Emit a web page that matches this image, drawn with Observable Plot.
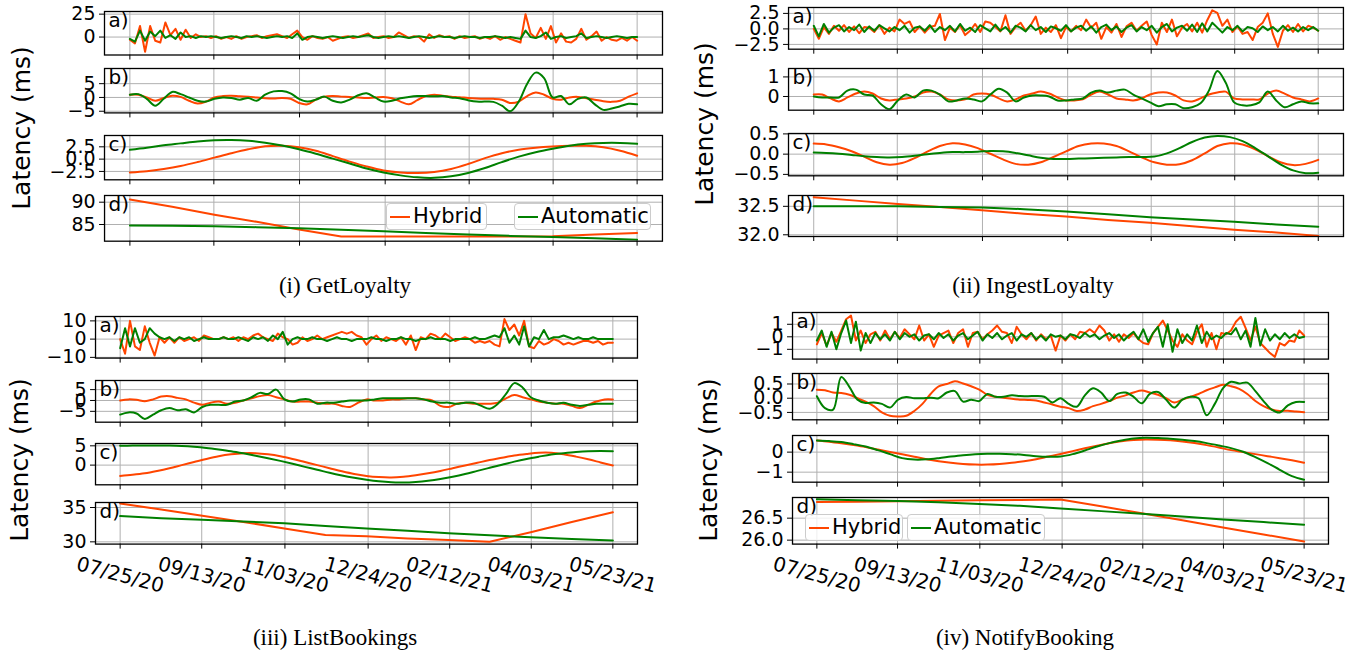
<!DOCTYPE html>
<html><head><meta charset="utf-8">
<script src="https://cdn.jsdelivr.net/npm/d3@7"></script>
<script src="https://cdn.jsdelivr.net/npm/@observablehq/plot@0.6"></script>
<style>
body{margin:0;background:#fff;}
#fig{position:relative;width:1364px;height:654px;overflow:hidden;font-family:"DejaVu Sans",sans-serif;background:#fff;}
.sub{position:absolute;overflow:visible;}
.ylab{position:absolute;font-size:25px;transform:translate(-50%,-50%) rotate(-90deg);white-space:nowrap;line-height:1;}
.cap{position:absolute;font-family:"Liberation Serif","Times New Roman",serif;font-size:23px;transform:translate(-50%,-50%);white-space:nowrap;line-height:1;}
.leg{position:absolute;box-sizing:border-box;border:1px solid #cccccc;border-radius:4px;background:rgba(255,255,255,0.8);display:flex;align-items:center;font-size:21px;line-height:1;white-space:nowrap;}
.sw{display:inline-block;width:20px;height:2px;margin:0 3px 0 3px;}
</style></head><body><div id="fig"></div>
<script>
// ---------- shared axis data ----------
const dateTickStrings = ["2020-07-25","2020-09-13","2020-11-03","2020-12-24","2021-02-12","2021-04-03","2021-05-23"];
const dateTickLabels = ["07/25/20","09/13/20","11/03/20","12/24/20","02/12/21","04/03/21","05/23/21"];
const seriesNames = ["Hybrid","Automatic"];
const captions = ["(i) GetLoyalty","(ii) IngestLoyalty","(iii) ListBookings","(iv) NotifyBooking"];

// ---------- (i) GetLoyalty ----------
const GL_a_hybrid = [-3,-7,12,-16,12,-4,-6,16,2,9, -3,8,-1,3,0,1,-1,1,-2,0, -2,1,-2,0,1,2,-1,1,2,3, 1,-1,3,7,0,-3,1,-1,-2,0, -4,-2,0,1,-1,0,2,4,-1,0, 1,-1,0,5,2,-1,1,0,-5,3, -1,2,0,1,-2,1,-1,0,1,-2, 0,-2,1,-3,0,-2,-4,-6,25,4, -1,10,-2,12,-6,4,-5,-6,-2,9, -3,1,6,-4,0,-3,-4,-1,-4,0, -4];
const GL_a_auto = [-2,-5,7,-4,6,1,7,-1,2,-2, 5,0,1,-1,1,0,1,0,-1,0, 1,0,-1,1,0,1,0,-1,0,1, 0,1,-1,4,-3,0,1,0,-1,0, 1,0,-1,0,1,0,1,2,0,-1, 0,1,0,1,0,-1,0,1,0,-1, 0,1,0,0,-1,0,1,0,0,-1, 0,0,1,0,-1,0,-1,-2,7,0, -1,1,5,-2,0,1,-1,0,1,4, -1,0,1,0,-1,0,1,0,-1,0, 0];
const GL_b_hybrid = [1,1,0,-1.2,-0.2,0.6,0.2,-1.2,-2.2,-1.5, 0,0.5,0.6,0.4,0.3,0,-0.3,-0.4,-0.2,-0.5, -2.0,-2.5,-0.8,0.3,0.5,0.3,0.2,0,-0.2,0, 0.2,-0.3,-1.5,-2.5,-1.0,0.5,1.0,0.6,0.3,0.1, -0.2,-0.4,-0.5,-0.5,-0.8,-2.0,-1.5,0.5,1.8,1.0, -0.5,-0.8,0,0.2,-0.3,-0.8,-1.4,-1.6,-1.2,0.3, 1.5];
const GL_b_auto = [1,1.2,-0.5,-3,-0.5,2,1.2,0,-1.2,-1.5, -0.5,0,-0.2,-0.8,-0.2,-1.2,1.0,2.2,2.3,1.5, -0.5,-1.5,-0.8,0.3,-1.2,-1.8,-0.8,0.8,1.5,0, -1.5,-1.2,-0.3,0.2,0.5,0.5,0.4,0.5,0,-0.3, -1.0,-1.5,-1.5,-1.6,-3,-5,-1.5,5,9,7, 0,0.5,-2.5,-0.5,0,-2.5,-4.5,-4,-3.2,-2.3, -2.5];
const GL_c_hybrid = [-2.7,-2.45,-2.0,-1.4,-0.6,0.3,1.2,2.0,2.6,2.7, 2.4,1.7,0.6,-0.5,-1.5,-2.3,-2.7,-2.8,-2.6,-2.0, -1.0,0.2,1.2,1.9,2.3,2.55,2.7,2.7,2.4,1.7, 0.7];
const GL_c_auto = [1.9,2.3,2.8,3.2,3.6,3.85,3.9,3.75,3.35,2.75, 2.0,1.1,0.1,-0.9,-1.9,-2.7,-3.3,-3.7,-3.8,-3.5, -2.8,-1.8,-0.6,0.5,1.4,2.1,2.7,3.1,3.3,3.3, 3.1];
const GL_d_hybrid = [90.6,89.0,87.2,85.6,83.9,82.3,82.3,82.3,82.3,82.3,82.35,82.75,83.1];
const GL_d_auto = [84.8,84.7,84.6,84.4,84.15,83.85,83.5,83.1,82.75,82.45,82.2,81.9,81.6];

// ---------- (ii) IngestLoyalty ----------
const IL_a_hybrid = [0,-1.6,0.3,-0.8,0.5,-0.3,0.6,-0.5,0.4,-0.7, 0.3,0.2,-0.5,0.6,-0.8,0.2,-0.4,1.5,0.8,1.2, -0.5,0.4,-0.6,0.3,0.5,2.4,-1.8,0.2,-0.5,0.6, -1.0,-0.3,0.8,-0.5,1.2,1.0,0.3,-0.4,2.2,-0.8, 0.3,1.0,-0.3,0.6,2.0,-0.8,0.2,-0.5,0.6,-1.5, 0.3,-0.4,0.5,-0.2,1.5,0.2,1.0,-1.6,0.3,-0.6, 0.8,-1.3,0.4,1.0,-0.3,0.5,1.2,-1.0,-2.5,1.0, -0.5,1.5,-1.2,0.2,0.8,-0.4,1.0,-0.6,1.4,3.0, 2.6,0.5,1.5,-0.5,0.4,-0.8,-0.5,-1.8,0.3,1.0, 2.5,-0.8,-2.9,-0.3,0.6,-0.5,0.8,-0.4,0.5,0.2, -0.3];
const IL_a_auto = [0.5,-1.2,0.8,-0.6,0.2,0.6,-0.4,0.3,-0.2,0.7, -0.5,0.4,-0.3,0.6,0.1,-0.4,0.3,-0.2,0.5,-0.6, 0.2,0.4,-0.3,0.6,-0.5,0.3,-0.2,0.5,-0.4,0.8, -0.3,0.2,-0.5,0.6,0.1,-0.4,0.7,-0.3,0.3,-0.6, 0.5,0.2,-0.4,0.6,-0.2,0.3,-0.5,0.4,0.1,-0.3, 0.6,-0.4,0.2,0.5,-0.3,0.4,-0.6,0.3,0.7,-0.2, 0.4,-0.5,0.2,0.6,-0.4,0.3,-0.2,0.5,-0.6,0.3, 0.8,-0.4,0.2,0.5,-0.3,0.7,-0.5,0.9,-0.4,1.0, 0.2,-0.6,0.3,-0.2,0.5,-0.4,0.3,0.1,-0.5,0.4, -0.2,0.3,-0.4,0.5,-0.3,0.2,-0.4,0.3,-0.2,0.3, -0.3];
const IL_b_hybrid = [0.1,0.1,-0.1,-0.25,-0.05,0.15,0.25,0.15,-0.1,-0.2, -0.15,-0.1,0,0.2,0.25,0.1,-0.15,-0.2,-0.15,0.1, 0.15,0.1,-0.1,-0.25,-0.15,0.05,0.15,0.25,0.15,-0.05, -0.2,-0.2,-0.15,0.1,0.25,0.1,-0.1,-0.15,-0.2,-0.1, 0.1,0.2,0.2,0.05,-0.2,-0.25,-0.1,0.1,0.2,0.25, -0.1,-0.15,-0.15,-0.15,0.15,0.3,0.15,-0.05,-0.15,-0.25, -0.1];
const IL_b_auto = [0,-0.05,-0.05,-0.05,0.3,0.35,0.1,0.05,-0.4,-0.65, -0.2,0.1,-0.05,0.3,0.3,0.1,-0.25,-0.2,-0.1,-0.15, -0.25,0.1,0.4,0.2,-0.25,-0.05,0.05,0.05,0,-0.2, -0.2,-0.15,-0.1,0.2,0.3,0.2,0.3,0.35,0.1,-0.1, -0.3,-0.5,-0.4,-0.4,-0.6,-0.55,-0.35,0.3,1.3,0.7, -0.3,-0.45,-0.45,-0.3,0.25,-0.2,-0.55,-0.4,-0.25,-0.35, -0.35];
const IL_c_hybrid = [0.26,0.24,0.17,0.07,-0.06,-0.2,-0.26,-0.22,-0.1,0.06, 0.2,0.27,0.24,0.15,0.01,-0.13,-0.24,-0.26,-0.2,-0.07, 0.07,0.2,0.26,0.26,0.2,0.07,-0.08,-0.2,-0.26,-0.25, -0.15,0.02,0.2,0.27,0.24,0.12,-0.05,-0.2,-0.27,-0.24, -0.14];
const IL_c_auto = [0.04,0.03,0.01,-0.02,-0.05,-0.07,-0.08,-0.07,-0.04,0, 0.03,0.05,0.05,0.06,0.08,0.07,0.03,-0.03,-0.09,-0.12, -0.12,-0.11,-0.1,-0.09,-0.08,-0.07,-0.07,-0.06,0.02,0.15, 0.3,0.41,0.45,0.42,0.32,0.15,-0.05,-0.25,-0.4,-0.47, -0.46];
const IL_d_hybrid = [32.66,32.6,32.54,32.49,32.43,32.37,32.32,32.26,32.21,32.15,32.09,32.04,31.98];
const IL_d_auto = [32.5,32.5,32.5,32.49,32.48,32.45,32.41,32.36,32.31,32.27,32.23,32.18,32.14];

// ---------- (iii) ListBookings ----------
const LB_a_hybrid = [0,-8,10,-4,-6,7,-2,-9,1,-2, 1,-2,1,-1,0,1,-1,2,1,0, 0,1,0,1,-1,1,0,2,3,1, 0,-1,3,1,0,-3,-2,1,-1,0, 2,0,1,2,3,4,3,4,2,1, -3,0,2,-1,1,0,-1,1,-3,2, -6,1,0,3,2,0,3,1,-1,0, 1,0,-2,-1,-2,-1,-3,-4,11,5, 8,2,10,-4,-5,-1,-3,-2,0,-1, -3,-2,-3,-2,-1,-1,-2,-1,-3,-2, -2];
const LB_a_auto = [-5,6,-4,6,-2,0,6,3,1,0, 1,-1,1,0,1,-1,0,1,0,0, 0,1,0,0,1,0,-1,1,0,1, -1,2,0,4,-3,0,1,0,0,1, 0,0,-1,0,1,0,0,-1,0,0, 0,1,0,0,-1,0,0,1,0,0, -1,0,0,1,0,0,0,-1,0,0, 0,0,1,0,0,1,2,1,6,-2, 2,-3,7,-4,1,0,5,0,1,1, 2,1,0,1,0,0,1,0,0,0, 0];
const LB_b_hybrid = [0,0.5,0.3,-0.3,0.5,1.8,2,1.2,0.5,-1, -2,-1,-0.5,-1.5,-1,0,1,2,2.5,1.5, 0.5,-0.5,-0.5,-0.5,-1,-1.5,-1.5,-2.5,-3,-1, 0.5,0,0,0.5,0.5,1,1,0.5,0,-2.5, -3,-1.5,-1,-1.5,-1.5,-1.5,-1,1,2.5,1.5, 0.5,-0.5,-1,-1.5,-1.5,-2.5,-3.5,-2,-0.5,0.5, 0.5];
const LB_b_auto = [-6.5,-5.5,-6,-8.5,-6.5,-4.5,-3.5,-4.5,-4,-5.5, -3,-2,-2,-2,-0.5,0,1.5,3.5,3,5, 0.5,-0.5,0.5,0.5,-1.5,-1,-1,-0.5,0,0, 0,0.5,1,1,1,1,1,0.5,-0.5,-1, -1,-1.5,-1,-1,-2.5,-3.8,-1.5,3,8,6, 1.5,0,-1,-1.5,-1,-2,-2.5,-2,-1.5,-1.5, -1.5];
const LB_c_hybrid = [-2.8,-2.5,-2.1,-1.5,-0.8,0,0.8,1.6,2.3,2.8, 3.1,3.1,2.8,2.3,1.6,0.8,0,-0.8,-1.6,-2.3, -2.8,-3.1,-3.2,-3.0,-2.6,-2.1,-1.5,-0.8,-0.1,0.6, 1.3,1.9,2.5,2.9,3.2,3.2,2.8,2.2,1.5,0.7, -0.1];
const LB_c_auto = [5.0,5.05,5.1,5.1,5.05,4.95,4.75,4.45,4.05,3.6, 3.05,2.45,1.8,1.1,0.35,-0.45,-1.2,-2.0,-2.7,-3.3, -3.8,-4.2,-4.45,-4.5,-4.35,-4.05,-3.6,-3.0,-2.3,-1.5, -0.7,0.1,0.9,1.6,2.2,2.75,3.1,3.4,3.6,3.65, 3.6];
const LB_d_hybrid = [35.6,34.7,33.8,32.9,31.95,31.0,30.8,30.5,30.25,30.0,31.4,32.9,34.3];
const LB_d_auto = [33.75,33.45,33.2,32.95,32.7,32.3,31.95,31.6,31.25,30.95,30.65,30.4,30.2];

// ---------- (iv) NotifyBooking ----------
const NB_a_hybrid = [-0.6,0.3,-0.7,0.3,-0.4,0.5,1.4,1.7,-0.3,0.5, -0.5,0.2,0.4,-0.3,0.5,-0.2,0.4,-0.1,0.6,0.2, -0.2,0.9,-0.3,0.2,-0.8,0.1,0.3,0.5,-0.5,0.3, 0.6,-0.8,0.3,0.4,-0.2,0.2,0.5,0.9,0.4,0.3, -0.5,0.8,0.2,-0.2,0.3,-0.3,0.2,-0.2,0.1,-1.1, 0.1,-0.3,0.2,-0.2,0.4,0.3,0.6,0.3,0.9,0.5, -0.3,0.2,-0.4,0.2,-0.1,0.3,-0.2,-0.5,-0.6,0.3, 0.8,1.3,0.5,-0.3,-0.8,0.2,-0.3,-0.6,0.4,1.0, -0.8,0.3,-1.0,0.3,0.2,0.5,1.2,1.6,0.7,-0.3, 0.8,-0.5,-0.9,-1.3,-1.6,-0.5,-0.7,-0.3,-0.4,0.5, 0.1];
const NB_a_auto = [-0.3,0.5,-0.8,0.4,-1.0,0.3,1.3,-0.5,1.2,-1.1, 0.3,-0.5,0.3,-0.2,0.2,-0.3,0.4,-0.2,0.3,0, 0.2,-0.3,0.1,0.2,-0.2,0.3,-0.1,0.2,-0.3,0.1, 0.3,-0.2,0.1,0.4,-0.3,0.2,-0.1,0.3,-0.2,0.1, 0.3,-0.3,0.2,0,0.3,-0.2,0.1,-0.3,0.2,0, 0.1,-0.2,0.2,0.1,-0.1,0.3,0,0.2,-0.2,0.1, 0.3,-0.1,0.2,-0.3,0.1,0.4,-0.2,0.6,-0.4,0.3, 0.8,-0.8,1.0,-1.2,0.6,-0.5,0.2,-0.3,0.9,-0.5, 0.4,-0.2,0.1,-0.1,0.3,0.2,0.7,-0.2,0.5,-0.8, 1.5,-0.7,0.6,-0.3,0.2,-0.2,0.3,-0.1,0.2,-0.1, 0];
const NB_b_hybrid = [0.3,0.28,0.2,0.18,0.12,0,-0.12,-0.28,-0.5,-0.62, -0.64,-0.62,-0.45,-0.2,0.15,0.42,0.5,0.6,0.52,0.42, 0.3,0.12,0.05,0.02,-0.02,-0.05,-0.06,-0.08,-0.15,-0.22, -0.3,-0.35,-0.45,-0.4,-0.28,-0.2,-0.1,0.02,0.1,0.2, 0.27,0.2,0.12,0,-0.15,-0.05,0.05,0.15,0.28,0.38, 0.47,0.42,0.33,0.15,-0.1,-0.28,-0.4,-0.45,-0.44,-0.47, -0.49];
const NB_b_auto = [0.07,-0.35,-0.4,0.75,0.4,-0.05,-0.17,-0.15,-0.2,-0.33, -0.05,0.04,0,0,0.02,0,0.2,0.25,-0.12,-0.05, -0.1,0.15,0.05,0.05,0.1,0.08,0.07,0.08,0.05,-0.15, 0,-0.2,-0.3,0.1,0.35,0.2,-0.1,0.15,0.2,0.05, -0.18,0.15,0.22,-0.05,-0.33,-0.05,0.05,0,-0.6,-0.2, 0.35,0.58,0.52,0.55,0.25,-0.1,-0.4,-0.5,-0.25,-0.13, -0.13];
const NB_c_hybrid = [0.58,0.52,0.44,0.35,0.25,0.13,0.01,-0.11,-0.23,-0.35, -0.45,-0.53,-0.59,-0.62,-0.62,-0.59,-0.53,-0.45,-0.35,-0.22, -0.09,0.05,0.19,0.32,0.44,0.54,0.6,0.63,0.62,0.59, 0.53,0.45,0.35,0.23,0.1,0,-0.1,-0.2,-0.3,-0.41, -0.53];
const NB_c_auto = [0.58,0.55,0.5,0.4,0.28,0.1,-0.1,-0.3,-0.37,-0.36, -0.3,-0.22,-0.15,-0.1,-0.08,-0.08,-0.1,-0.14,-0.2,-0.23, -0.22,-0.1,0.08,0.28,0.45,0.58,0.68,0.72,0.7,0.67, 0.62,0.55,0.45,0.33,0.2,0.02,-0.25,-0.55,-0.88,-1.2, -1.38];
const NB_d_hybrid = [26.87,26.875,26.885,26.895,26.905,26.915,26.925,26.77,26.61,26.45,26.29,26.13,25.97];
const NB_d_auto = [26.93,26.91,26.89,26.86,26.82,26.78,26.72,26.66,26.6,26.54,26.47,26.41,26.35];

// ---------- tick values per subplot ----------
const ticks = {
  GL:{a:[0,25], b:[-5,0,5], c:[-2.5,0,2.5], d:[85,90]},
  IL:{a:[-2.5,0,2.5], b:[0,1], c:[-0.5,0,0.5], d:[32.0,32.5]},
  LB:{a:[-10,0,10], b:[-5,0,5], c:[0,5], d:[30,35]},
  NB:{a:[-1,0,1], b:[-0.5,0,0.5], c:[-1,0], d:[26.0,26.5]}
};
const tickDecimals = {
  GL:{a:0,b:0,c:1,d:0}, IL:{a:1,b:0,c:1,d:1}, LB:{a:0,b:0,c:0,d:0}, NB:{a:0,b:1,c:0,d:1}
};

// ---------- layout (pixels) ----------
const ORANGE = "#ff4500", GREEN = "#008000";
const DAY = 864e5;
const T0 = Date.UTC(2020,6,25);
const SPAN = 302;
const dateTicks = dateTickStrings.map(s => new Date(s + "T00:00:00Z"));
const xDomain = [new Date(T0 - 0.05*SPAN*DAY), new Date(T0 + 1.05*SPAN*DAY)];

const panels = [
  {key:"GL", x0:104, x1:662, rows:{a:[11,54.5,[-19.6,27.9]], b:[68.3,112.7,[-5.6,10.5]], c:[135,179.3,[-4.2,4.8]], d:[195,240.7,[81.26,91.5]]}, dates:false,
   data:{a:[GL_a_hybrid,GL_a_auto], b:[GL_b_hybrid,GL_b_auto], c:[GL_c_hybrid,GL_c_auto], d:[GL_d_hybrid,GL_d_auto]},
   ylab:[21,128], cap:[345,285]},
  {key:"IL", x0:788, x1:1343, rows:{a:[7.3,49,[-3.27,3.45]], b:[68.3,110,[-0.7,1.43]], c:[132.7,175,[-0.535,0.51]], d:[195,236,[31.97,32.69]]}, dates:false,
   data:{a:[IL_a_hybrid,IL_a_auto], b:[IL_b_hybrid,IL_b_auto], c:[IL_c_hybrid,IL_c_auto], d:[IL_d_hybrid,IL_d_auto]},
   ylab:[704,124], cap:[1033,285]},
  {key:"LB", x0:95, x1:637, rows:{a:[315.7,357.3,[-10.4,12.4]], b:[380,421.7,[-10,9.2]], c:[442.7,484,[-5.1,5.6]], d:[501.7,543.3,[29.67,35.73]]}, dates:true,
   data:{a:[LB_a_hybrid,LB_a_auto], b:[LB_b_hybrid,LB_b_auto], c:[LB_c_hybrid,LB_c_auto], d:[LB_d_hybrid,LB_d_auto]},
   ylab:[19,460], cap:[335,637]},
  {key:"NB", x0:792, x1:1328, rows:{a:[311.7,358.3,[-1.78,1.94]], b:[372.7,419,[-0.76,0.87]], c:[435,481.7,[-1.5,0.83]], d:[496.7,543.3,[25.91,26.97]]}, dates:true,
   data:{a:[NB_a_hybrid,NB_a_auto], b:[NB_b_hybrid,NB_b_auto], c:[NB_c_hybrid,NB_c_auto], d:[NB_d_hybrid,NB_d_auto]},
   ylab:[708,460], cap:[1025,637]}
];
const legends = {
  GL:[[386,203,101,27],[514,203,137,27]],
  NB:[[805,514,98,27],[907,514,138,27]]
};

const fig = document.getElementById("fig");

function rows(vals){
  const n = vals.length;
  return vals.map((v,i) => ({date:new Date(T0 + (i/(n-1))*SPAN*DAY), v}));
}
function fmt(v, dec){
  const s = Math.abs(v).toFixed(dec);
  return (v < 0 ? "\u2212" : "") + s;
}

for (const p of panels){
  for (const r of ["a","b","c","d"]){
    const [y0,y1,dom] = p.rows[r];
    const isBottom = r === "d";
    const showDates = isBottom && p.dates;
    const ML=90, MR=6, MT=6, MB = showDates ? 80 : 12;
    const yt = ticks[p.key][r], dec = tickDecimals[p.key][r];
    const [hyb, aut] = p.data[r];
    const curve = (r === "a" || r === "d") ? "linear" : "catmull-rom";
    const marks = [
      Plot.gridX(dateTicks, {stroke:"#b0b0b0", strokeOpacity:1, strokeWidth:1}),
      Plot.gridY(yt, {stroke:"#b0b0b0", strokeOpacity:1, strokeWidth:1}),
      Plot.line(rows(hyb), {x:"date", y:"v", stroke:ORANGE, strokeWidth:2, curve, clip:true}),
      Plot.line(rows(aut), {x:"date", y:"v", stroke:GREEN, strokeWidth:2, curve, clip:true}),
      Plot.frame({stroke:"black", strokeWidth:1.3}),
      Plot.axisY(yt, {tickFormat:d => fmt(d,dec), fontSize:19, tickSize:5, tickPadding:4, label:null}),
      Plot.axisX(dateTicks, {tickFormat:() => "", tickSize:5, label:null}),
      Plot.text([r + ")"], {frameAnchor:"top-left", dx:4, dy:1, fontSize:20, lineAnchor:"top", textAnchor:"start", fill:"black"})
    ];
    if (showDates){
      marks.push(Plot.text(dateTicks, {x:d => d, frameAnchor:"bottom", text:(d,i) => dateTickLabels[i], dy:31, rotate:15, fontSize:20, textAnchor:"middle", lineAnchor:"middle", fill:"black"}));
    }
    const svg = Plot.plot({
      width: (p.x1 - p.x0) + ML + MR,
      height: (y1 - y0) + MT + MB,
      marginLeft:ML, marginRight:MR, marginTop:MT, marginBottom:MB,
      x:{type:"utc", domain:xDomain},
      y:{domain:dom},
      style:{fontFamily:"DejaVu Sans", fontSize:"19px", background:"transparent", color:"black", overflow:"visible"},
      marks
    });
    svg.classList.add("sub");
    svg.style.left = (p.x0 - ML) + "px";
    svg.style.top = (y0 - MT) + "px";
    fig.appendChild(svg);
  }
  const yl = document.createElement("div");
  yl.className = "ylab"; yl.textContent = "Latency (ms)";
  yl.style.left = p.ylab[0] + "px"; yl.style.top = p.ylab[1] + "px";
  fig.appendChild(yl);
  const cp = document.createElement("div");
  cp.className = "cap"; cp.textContent = captions[panels.indexOf(p)];
  cp.style.left = p.cap[0] + "px"; cp.style.top = p.cap[1] + "px";
  fig.appendChild(cp);
  if (legends[p.key]){
    legends[p.key].forEach((b, k) => {
      const d = document.createElement("div");
      d.className = "leg";
      d.style.left = b[0] + "px"; d.style.top = b[1] + "px"; d.style.width = b[2] + "px"; d.style.height = b[3] + "px";
      const sw = document.createElement("span"); sw.className = "sw"; sw.style.background = k === 0 ? ORANGE : GREEN;
      const tx = document.createElement("span"); tx.textContent = seriesNames[k];
      d.appendChild(sw); d.appendChild(tx);
      fig.appendChild(d);
    });
  }
}
</script></body></html>
